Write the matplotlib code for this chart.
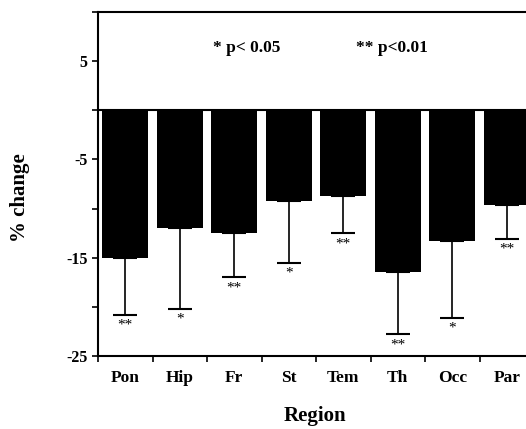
import matplotlib
matplotlib.use("Agg")
import matplotlib.pyplot as plt
import numpy as np

regions = ["Pon", "Hip", "Fr", "St", "Tem", "Th", "Occ", "Par"]
change = [-15.0, -12.0, -12.45, -9.2, -8.75, -16.4, -13.3, -9.6]
err = [5.8, 8.2, 4.55, 6.3, 3.75, 6.4, 7.8, 3.5]
signif = ["**", "*", "**", "*", "**", "**", "*", "**"]

plt.rcParams["font.family"] = ["Liberation Serif", "DejaVu Serif"]
plt.rcParams["font.weight"] = "bold"
plt.rcParams["axes.unicode_minus"] = False

fig = plt.figure(figsize=(5.26, 4.29), dpi=100)
# axes run past the right edge of the figure, as in the original scan
ax = fig.add_axes([98 / 526, 0.170, 436 / 526, 0.802])

x = np.arange(len(regions))
ax.bar(x, change, width=0.85, color="black")
ax.errorbar(x, change, yerr=[err, np.zeros(len(err))], fmt="none",
            ecolor="black", elinewidth=1.2, capsize=8.5, capthick=1.5)
for xi, v, e, s in zip(x, change, err, signif):
    ax.text(xi, v - e - 0.4, s, ha="center", va="top", fontsize=11, fontweight="normal")

ax.axhline(0, color="black", lw=1.5)
ax.set_xlim(-0.5, 7.5)
ax.set_ylim(-25, 10)
ax.set_yticks([5, -5, -15, -25])
ax.set_yticks([10, 0, -10, -20], minor=True)
ax.set_xticks(x)
ax.set_xticklabels(regions, fontsize=12.5, fontweight="bold")
ax.set_xticks(np.arange(-0.5, 8, 1), minor=True)
ax.tick_params(axis="x", which="major", length=0, pad=10)
ax.tick_params(axis="x", which="minor", length=4, width=1.2)
ax.tick_params(axis="y", which="both", length=4, width=1.2, labelsize=11.5)
for lab in ax.get_yticklabels():
    lab.set_fontweight("bold")
for side in ["left", "bottom", "top"]:
    ax.spines[side].set_linewidth(1.5)

ax.text(2.23, 6.3, "* p< 0.05", ha="center", va="center", fontsize=12.5, fontweight="bold")
ax.text(4.89, 6.3, "** p<0.01", ha="center", va="center", fontsize=12.5, fontweight="bold")

fig.text(20 / 526, 1 - 198 / 429, "% change", rotation=90, ha="center", va="center",
         fontsize=15, fontweight="bold")
fig.text(315 / 526, 1 - 416 / 429, "Region", ha="center", va="center",
         fontsize=15, fontweight="bold")

fig.savefig("out.png", dpi=100)
